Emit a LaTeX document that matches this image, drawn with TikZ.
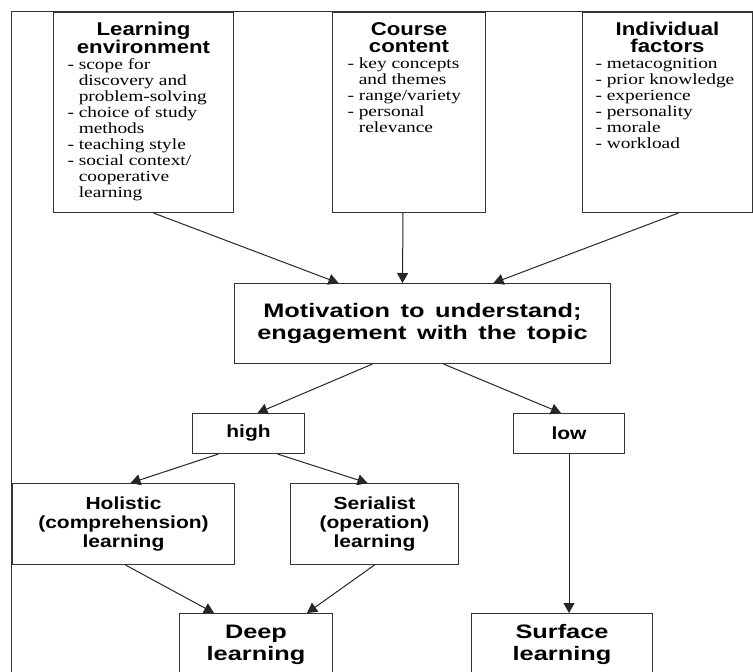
\documentclass[tikz,border=0pt]{standalone}
\usepackage{fontspec}
\usetikzlibrary{arrows.meta,calc}
\setmainfont{Liberation Serif}
\newfontfamily\headfont{Liberation Sans}[FakeStretch=1.2,WordSpace=2]
\newfontfamily\wideheadfont{Liberation Sans}[FakeStretch=1.3,WordSpace=1.5]
\newfontfamily\listfont{Liberation Serif}[FakeStretch=1.25]

\newcommand{\bighead}{\wideheadfont\bfseries\fontsize{19.5}{22}\selectfont}
\newcommand{\midhead}{\headfont\bfseries\fontsize{17.5}{19}\selectfont}
\newcommand{\tophead}{\headfont\bfseries\fontsize{18.5}{17}\selectfont}
\newcommand{\listtext}{\listfont\mdseries\fontsize{15.5}{16}\selectfont}
\newcommand{\cont}{\hphantom{- }}
% heading on top, list below it, fixed box height
\newcommand{\factortext}[3]{\parbox[c][200pt][t]{#1}{\centering\tophead
  \rule{0pt}{23pt}#2\par\raggedright\listtext #3\par}}

\begin{document}
\begin{tikzpicture}[x=1pt,y=-1pt,
    box/.style={draw=black!80,line width=1pt,align=center,anchor=north west,inner sep=0pt},
    factor/.style={box,inner ysep=0pt},
    arr/.style={draw=black!85,line width=1pt,-{Triangle[length=10pt,width=11pt]}}]
    \useasboundingbox (0,0) rectangle (753,672);
    \clip (0,0) rectangle (753,672);
    \draw[black!80,line width=1pt] (11,11) rectangle (770,690);

    % the three factors
    \node[factor,inner xsep=14pt] (env) at (53,12) {\factortext{152pt}{Learning\\environment}{%
      - scope for\\\cont discovery and\\\cont problem-solving\\- choice of study\\\cont methods\\
      - teaching style\\- social context/\\\cont cooperative\\\cont learning}};
    \node[factor,inner xsep=15pt] (crs) at (332,12) {\factortext{123pt}{Course\\content}{%
      - key concepts\\\cont and themes\\- range/variety\\- personal\\\cont relevance}};
    \node[factor,inner xsep=13pt] (ind) at (582,12) {\factortext{144pt}{Individual\\factors}{%
      - metacognition\\- prior knowledge\\- experience\\- personality\\- morale\\- workload}};

    \node[box,font=\bighead,minimum width=376pt,minimum height=80pt] (mot) at (234,283)
      {Motivation to understand;\\engagement with the topic};
    \node[box,font=\midhead,minimum width=112pt,minimum height=40pt] (high) at (192,413) {high};
    \node[box,font=\midhead,minimum width=111pt,minimum height=40pt] (low) at (513,413) {low};
    \node[box,font=\midhead,minimum width=222pt,minimum height=81pt] (hol) at (12,483)
      {Holistic\\(comprehension)\\learning};
    \node[box,font=\midhead,minimum width=168pt,minimum height=81pt] (ser) at (290,483)
      {Serialist\\(operation)\\learning};
    \node[box,font=\bighead,minimum width=153pt,minimum height=62pt] (deep) at (179,613) {Deep\\learning};
    \node[box,font=\bighead,minimum width=181pt,minimum height=62pt] (surf) at (471,613) {Surface\\learning};

    \draw[arr] ($(env.south)+(10pt,0pt)$) -- ($(mot.north)+(-84pt,0pt)$);
    \draw[arr] ($(crs.south)+(-6pt,0pt)$) -- ($(mot.north)+(-20pt,0pt)$);
    \draw[arr] ($(ind.south)+(11pt,0pt)$) -- ($(mot.north)+(71pt,0pt)$);
    \draw[arr] ($(mot.south)+(-50pt,0pt)$) -- ($(high.north)+(9pt,0pt)$);
    \draw[arr] ($(mot.south)+(21pt,0pt)$) -- ($(low.north)+(-8pt,0pt)$);
    \draw[arr] ($(high.south)+(-30pt,0pt)$) -- ($(hol.north)+(7pt,0pt)$);
    \draw[arr] ($(high.south)+(29pt,0pt)$) -- ($(ser.north)+(-7pt,0pt)$);
    \draw[arr] ($(hol.south)+(2pt,0pt)$) -- ($(deep.north)+(-42pt,0pt)$);
    \draw[arr] (ser.south) -- ($(deep.north)+(51pt,0pt)$);
    \draw[arr] (low.south) -- (low.south |- surf.north);
\end{tikzpicture}
\end{document}
